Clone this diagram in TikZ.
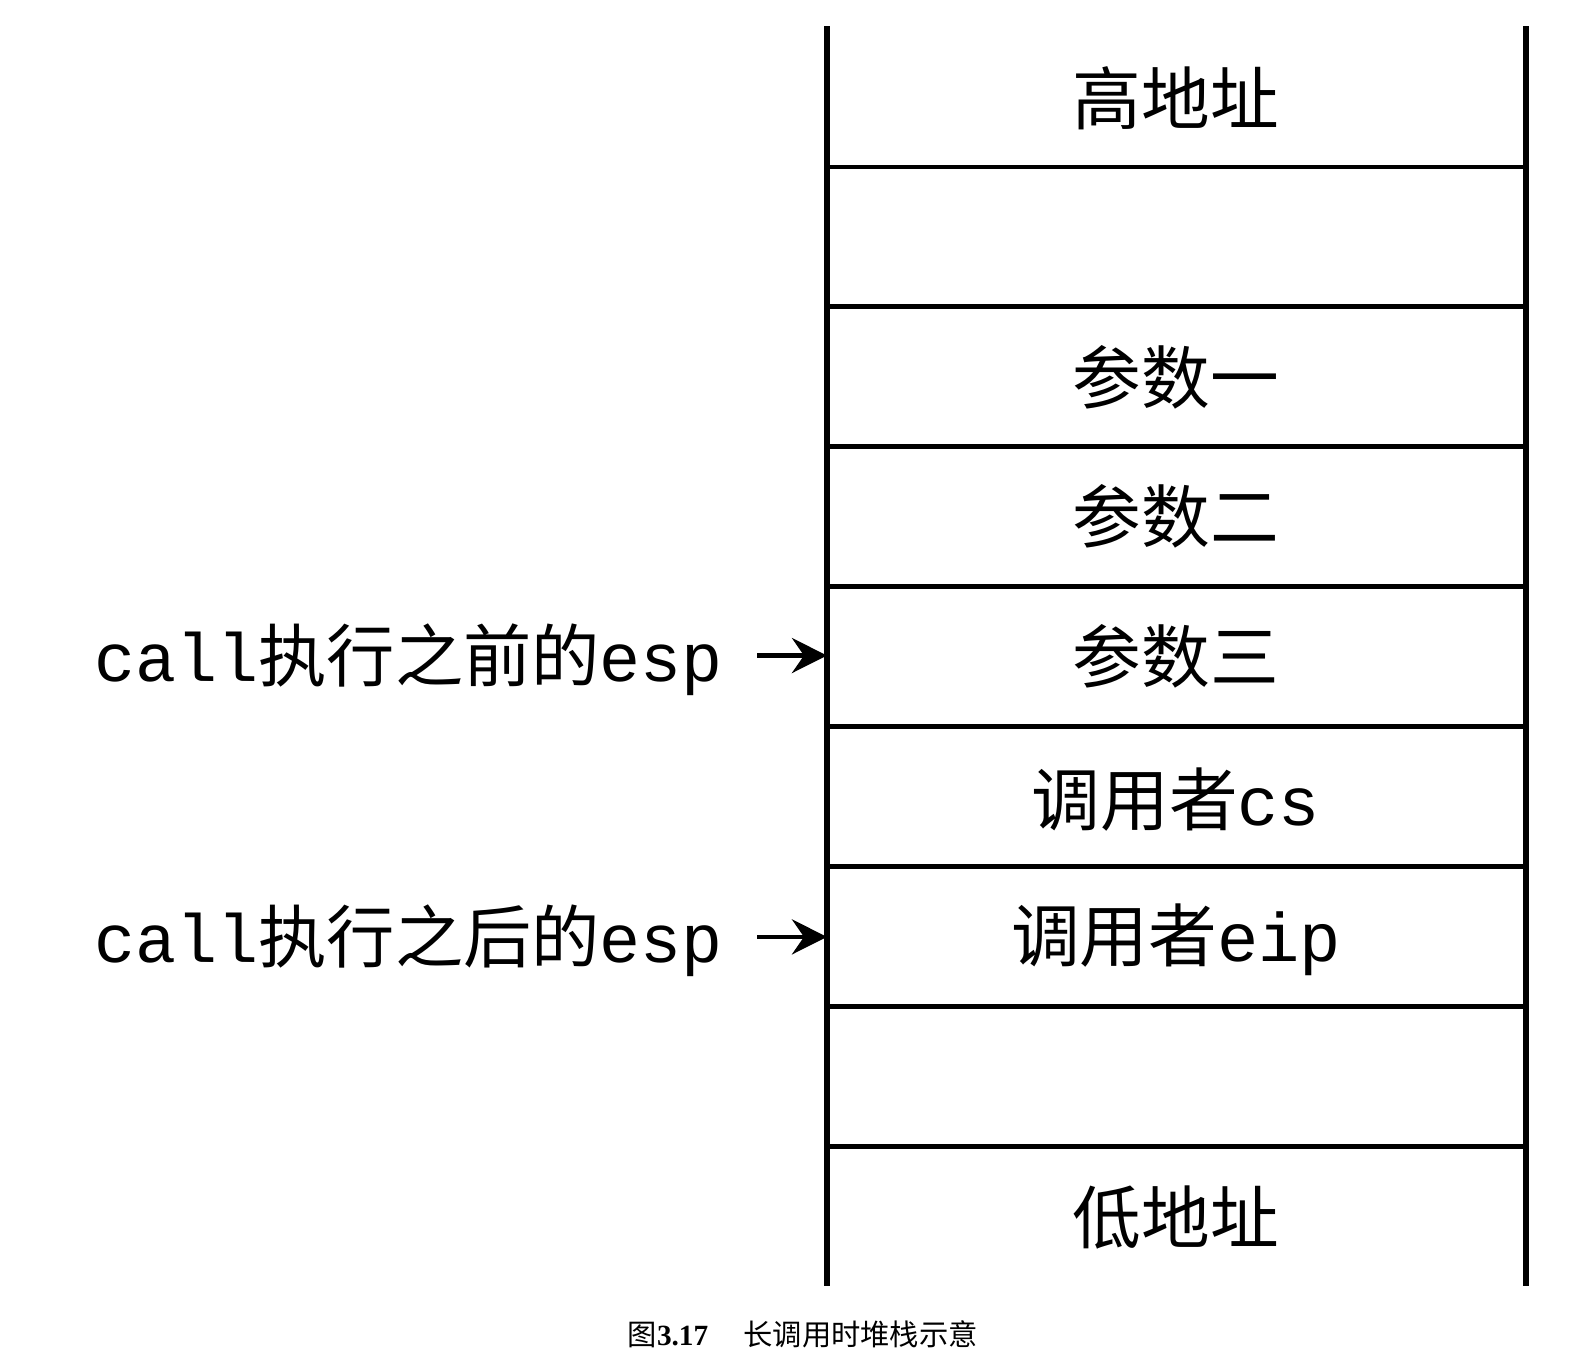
\documentclass[tikz,border=0pt]{standalone}
\usepackage{fontspec}
\setmainfont{Liberation Serif}
\newfontfamily\cjk{Noto Sans CJK SC}
\newfontfamily\mono{Liberation Mono}
\usetikzlibrary{arrows.meta}
\tikzset{
  cell/.style={inner sep=0pt, font=\fontsize{68.7}{72}\selectfont},
  lbl/.style={inner sep=0pt, anchor=east, font=\fontsize{68.3}{72}\selectfont},
  wall/.style={line width=5.5pt},
  divider/.style={line width=4.8pt},
  ptr/.style={line width=4.6pt, -{Stealth[length=35pt,width=35pt,inset=12pt]}},
}
\begin{document}
\begin{tikzpicture}[x=1.0085pt,y=-1.0085pt]
\useasboundingbox (0pt,0pt) rectangle (1581pt,-1360pt);
% walls
\coordinate (tl) at (820,26);
\coordinate (bl) at (820,1275);
\coordinate (tr) at (1513,26);
\coordinate (br) at (1513,1275);
\draw[wall] (tl) -- (bl);
\draw[wall] (tr) -- (br);
% dividers
\foreach \y [count=\i] in {165.5,304.2,443,581.8,720.5,859.3,998,1137}{
  \coordinate (dl\i) at (820,\y);
  \coordinate (dr\i) at (1513,\y);
  \draw[divider] (dl\i) -- (dr\i);
}
% cells
\node[cell] (c1) at (1166,97) {\cjk 高地址};
\node[cell] (c3) at (1166,374) {\cjk 参数一};
\node[cell] (c4) at (1166,512) {\cjk 参数二};
\node[cell] (c5) at (1166,651) {\cjk 参数三};
\node[cell] (c6) at (1166,793) {{\cjk 调用者}{\mono cs}};
\node[cell] (c7) at (1166,932) {{\cjk 调用者}{\mono eip}};
\node[cell] (c9) at (1166,1207) {\cjk 低地址};
% pointer labels
\coordinate (p1) at (820,650);
\coordinate (p2) at (820,929);
\node[lbl] (l1) at (717,654) {{\mono call}{\cjk 执行之前的}{\mono esp}};
\node[lbl] (l2) at (717,933) {{\mono call}{\cjk 执行之后的}{\mono esp}};
\draw[ptr] (l1.east) ++(34,-4) coordinate (s1) -- (p1);
\draw[ptr] (l2.east) ++(34,-4) coordinate (s2) -- (p2);
% caption
\node[inner sep=0pt, font=\fontsize{29.3}{31}\selectfont] (cap) at (796,1323)
  {{\cjk 图}\textbf{3.17}\hspace{1.2em}{\cjk 长调用时堆栈示意}};
\end{tikzpicture}
\end{document}
